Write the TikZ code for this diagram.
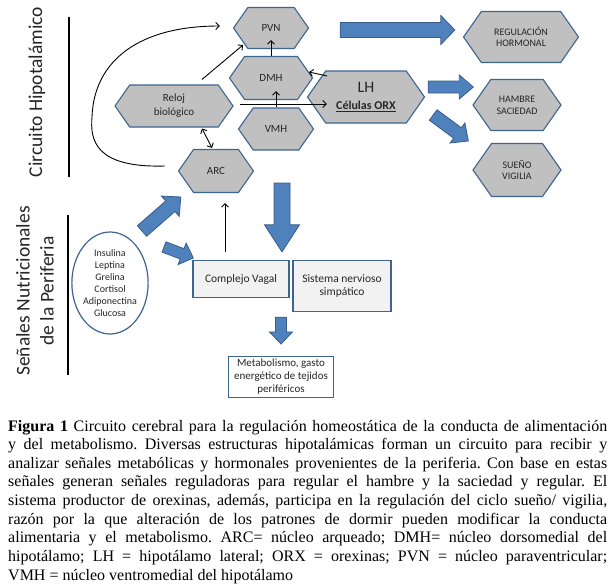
\documentclass[tikz,border=0pt]{standalone}
\usepackage{fontspec}
\setmainfont{Liberation Serif}
\newfontfamily\calib{Carlito}
\usetikzlibrary{shapes.symbols,shapes.geometric,calc,arrows.meta}
\definecolor{hexfill}{RGB}{192,192,192}
\definecolor{hexborder}{RGB}{62,100,145}
\definecolor{arrowfill}{RGB}{79,129,189}
\definecolor{arrowborder}{RGB}{56,93,138}
\definecolor{boxfill}{RGB}{242,242,242}
\definecolor{txt}{RGB}{38,38,38}
\newcommand{\fs}[2]{\fontsize{#1}{#2}\selectfont}
% block arrow: #1 start, #2 end, #3 half shaft, #4 half head, #5 head length, #6 name
\newcommand{\blockarr}[6]{%
  \coordinate (#6hb) at ($(#2)!#5pt!(#1)$);
  \draw[barrow] ($(#1)!#3pt!90:(#2)$) -- ($(#6hb)!#3pt!-90:(#1)$) -- ($(#6hb)!#4pt!-90:(#1)$) -- (#2)
    -- ($(#6hb)!#4pt!90:(#1)$) -- ($(#6hb)!#3pt!90:(#1)$) -- ($(#1)!#3pt!-90:(#2)$) -- cycle;}
\begin{document}
\begin{tikzpicture}[x=1pt,y=-1pt,
  hex/.style={signal, signal to=west and east, signal pointer angle=110, draw=hexborder, fill=hexfill, line width=1.1pt, inner sep=0pt, text=txt, align=center, font=\calib\fs{11}{14}},
  capshex/.style={hex, font=\calib\fs{10}{11.7}},
  box/.style={rectangle, draw=hexborder, line width=1.3pt, inner sep=0pt, align=center, text=txt, font=\calib\fs{11.5}{13.3}},
  conn/.style={black, line width=0.9pt, -{Straight Barb[length=3.5pt,width=7pt]}},
  barrow/.style={draw=arrowborder, fill=arrowfill, line width=0.8pt, line join=miter},
  title/.style={rotate=90, font=\calib\fs{19.5}{24}, align=center, text=txt, inner sep=0pt},
  rule/.style={black, line width=1.4pt}]
\useasboundingbox (0,0) rectangle (612,586);

% side titles
\node[title] (t1) at (37,92) {Circuito Hipotalámico};
\node[title] (t2) at (35,291) {Señales Nutricionales\\de la Periferia};
\coordinate (r1a) at (69,17); \coordinate (r1b) at (69,177);
\coordinate (r2a) at (68,215); \coordinate (r2b) at (68,375);
\draw[rule] (r1a) -- (r1b);
\draw[rule] (r2a) -- (r2b);

% hypothalamic nodes
\node[hex, minimum width=75pt, minimum height=41pt] (PVN) at (271,28) {PVN};
\node[hex, minimum width=83pt, minimum height=43pt] (DMH) at (271,78) {DMH};
\node[hex, minimum width=75pt, minimum height=42pt] (VMH) at (276,129) {VMH};
\node[hex, minimum width=118pt, minimum height=42pt] (Reloj) at (174,106) {Reloj\\biológico};
\node[hex, minimum width=75pt, minimum height=43pt] (ARC) at (216,171) {ARC};
\node[hex, minimum width=117pt, minimum height=52pt, font=\calib\fs{12}{17}] (LH) at (366,97) {{\fs{16}{17}LH}\\\underline{\textbf{Células ORX}}};
\node[capshex, minimum width=115pt, minimum height=51pt] (REG) at (521,37) {REGULACIÓN\\HORMONAL};
\node[capshex, minimum width=88pt, minimum height=51pt] (HAM) at (517,105) {HAMBRE\\SACIEDAD};
\node[capshex, minimum width=88pt, minimum height=53pt] (SUE) at (517,170) {SUEÑO\\VIGILIA};

% peripheral
\node[ellipse, draw=hexborder, line width=1.2pt, fill=white, minimum width=75pt, minimum height=102pt, inner sep=0pt, align=center, text=txt, font=\calib\fs{10}{12}] (SIG) at (110,283) {Insulina\\Leptina\\Grelina\\Cortisol\\Adiponectina\\Glucosa};
\node[box, fill=boxfill, minimum width=96pt, minimum height=37pt] (VAG) at (241,279) {Complejo Vagal};
\node[box, fill=boxfill, minimum width=98pt, minimum height=51pt] (SNS) at (342,286) {Sistema nervioso\\simpático};
\node[box, fill=white, minimum width=105pt, minimum height=41pt, line width=1.1pt, font=\calib\fs{11}{13}] (MET) at (281,377) {Metabolismo, gasto\\energético de tejidos\\periféricos};

% thin connectors
\draw[conn] ($(Reloj.north)+(28,-5)$) -- ($(PVN.center)+(-28,17)$);
\draw[conn] (DMH.north) -- ($(PVN.south)+(0,-9)$);
\draw[conn] (VMH.north) -- ($(VMH.north |- DMH.south)+(0,-9)$);
\draw[conn] ($(LH.center)+(-39,-21)$) -- ($(DMH.center)+(38,-6)$);
\draw[conn] ($(Reloj.east)+(6,-2)$) -- ($(LH.west)+(20,7)$);
\draw[conn, {Straight Barb[length=3.5pt,width=7pt]}-{Straight Barb[length=3.5pt,width=7pt]}] ($(Reloj.south)+(28,1)$) -- ($(ARC.north)+(-4,-1)$);
\draw[conn] ($(VAG.north)+(-16,-8)$) -- ($(ARC.south)+(9,10)$);
\draw[conn] ($(ARC.west)+(-13,-5)$) .. controls (95,168) and (90,140) .. (92,117) .. controls (94,60) and (140,26) .. ($(PVN.west)+(-13,-2)$);

% block arrows
\coordinate (a1s) at ($(PVN.east)+(31,2)$);  \coordinate (a1e) at ($(REG.west)+(-8,-7)$);
\coordinate (a2s) at ($(LH.east)+(3,-10)$);  \coordinate (a2e) at ($(HAM.west)+(1,-18)$);
\coordinate (a3s) at ($(LH.east)+(8,18)$);   \coordinate (a3e) at ($(SUE.west)+(-4,-29)$);
\coordinate (a4s) at ($(SIG.center)+(32,-52)$); \coordinate (a4e) at ($(ARC.west)+(3,26)$);
\coordinate (a5s) at ($(SIG.center)+(54,-36)$); \coordinate (a5e) at ($(VAG.west)+(1,-21)$);
\coordinate (a6s) at ($(ARC.south)+(66,-10)$); \coordinate (a6e) at ($(SNS.north)+(-60,-8)$);
\coordinate (a7s) at ($(SNS.south)+(-61,5)$); \coordinate (a7e) at ($(MET.north)+(0,-12)$);
\blockarr{a1s}{a1e}{7.5}{14.5}{14}{A1}
\blockarr{a2s}{a2e}{6}{12}{14}{A2}
\blockarr{a3s}{a3e}{6.5}{12.5}{13.5}{A3}
\blockarr{a4s}{a4e}{7}{13.5}{14}{A4}
\blockarr{a5s}{a5e}{5.5}{11.5}{12}{A5}
\blockarr{a6s}{a6e}{8}{17.5}{27}{A6}
\blockarr{a7s}{a7e}{5.5}{11.5}{12}{A7}

% caption
\node[anchor=base west, inner sep=0pt, text width=599pt, font=\fs{16}{18.63}] (CAP) at (8,431) {%
\frenchspacing\spaceskip=0.25em plus 2em minus 0.09em\relax
\hbox to 599pt{\textbf{Figura 1} Circuito cerebral para la regulación homeostática de la conducta de alimentación}
\hbox to 599pt{y del metabolismo. Diversas estructuras hipotalámicas forman un circuito para recibir y}
\hbox to 599pt{analizar señales metabólicas y hormonales provenientes de la periferia. Con base en estas}
\hbox to 599pt{señales generan señales reguladoras para regular el hambre y la saciedad y regular. El}
\hbox to 599pt{sistema productor de orexinas, además, participa en la regulación del ciclo sueño/ vigilia,}
\hbox to 599pt{razón por la que alteración de los patrones de dormir pueden modificar la conducta}
\hbox to 599pt{alimentaria y el metabolismo. ARC= núcleo arqueado; DMH= núcleo dorsomedial del}
\hbox to 599pt{hipotálamo; LH = hipotálamo lateral; ORX = orexinas; PVN = núcleo paraventricular;}
\hbox{VMH = núcleo ventromedial del hipotálamo}};
\end{tikzpicture}
\end{document}
